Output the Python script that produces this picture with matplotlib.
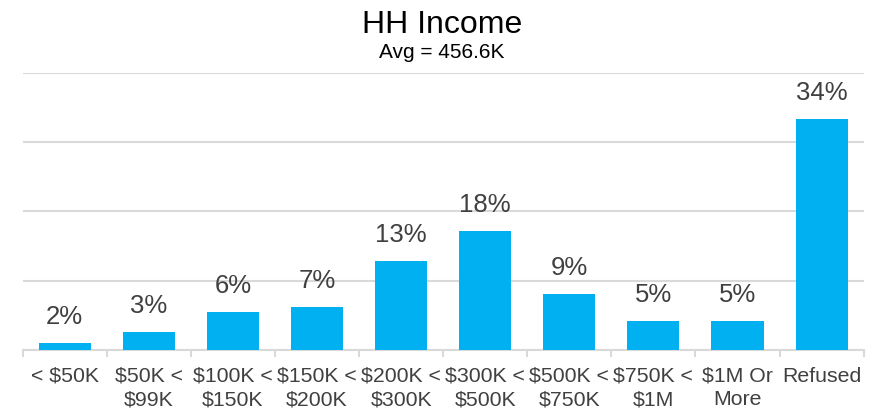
import matplotlib.pyplot as plt
import numpy as np

plt.rcParams["font.family"] = ["Liberation Sans", "DejaVu Sans"]

categories = [
    "< $50K", "$50K <\n$99K", "$100K <\n$150K", "$150K <\n$200K", "$200K <\n$300K",
    "$300K <\n$500K", "$500K <\n$750K", "$750K <\n$1M", "$1M Or\nMore", "Refused",
]
# bar heights (percent); labels are the rounded values shown
shares = [1.05, 2.65, 5.45, 6.2, 12.9, 17.2, 8.1, 4.2, 4.2, 33.3]
bar_labels = ["2%", "3%", "6%", "7%", "13%", "18%", "9%", "5%", "5%", "34%"]
title = "HH Income"
subtitle = "Avg = 456.6K"

BAR_COLOR = "#00B0F0"
GRID_COLOR = "#D9D9D9"
TEXT_COLOR = "#404040"

fig = plt.figure(figsize=(8.84, 4.11), dpi=100)
ax = fig.add_axes([0.0256, 0.148, 0.9514, 0.675])

x = np.arange(len(categories))
ax.bar(x, shares, width=0.62, color=BAR_COLOR, zorder=3)

ax.set_ylim(0, 40)
ax.set_xlim(-0.5, len(categories) - 0.5)
ax.set_yticks([0, 10, 20, 30, 40])
ax.yaxis.grid(True, color=GRID_COLOR, linewidth=1.5, zorder=0)
ax.tick_params(axis="y", left=False, labelleft=False)

for s in ["top", "right", "left"]:
    ax.spines[s].set_visible(False)
ax.spines["bottom"].set_color(GRID_COLOR)
ax.spines["bottom"].set_linewidth(1.5)

ax.set_xticks(x)
ax.set_xticklabels(categories, fontsize=15.3, color=TEXT_COLOR, linespacing=1.3)
ax.tick_params(axis="x", length=0, pad=12)
ax.set_xticks(np.arange(-0.5, len(categories)), minor=True)
ax.tick_params(axis="x", which="minor", length=5, width=1.5, color=GRID_COLOR)

for xi, v, lab in zip(x, shares, bar_labels):
    ax.annotate(lab, (xi, v), xytext=(0, 10), textcoords="offset points",
                ha="center", va="bottom", fontsize=18.5, color=TEXT_COLOR)

fig.text(0.5, 0.92, title, ha="center", va="baseline", fontsize=23, color="black")
fig.text(0.5, 0.858, subtitle, ha="center", va="baseline", fontsize=15, color="black")

fig.savefig("out.png", dpi=100)
